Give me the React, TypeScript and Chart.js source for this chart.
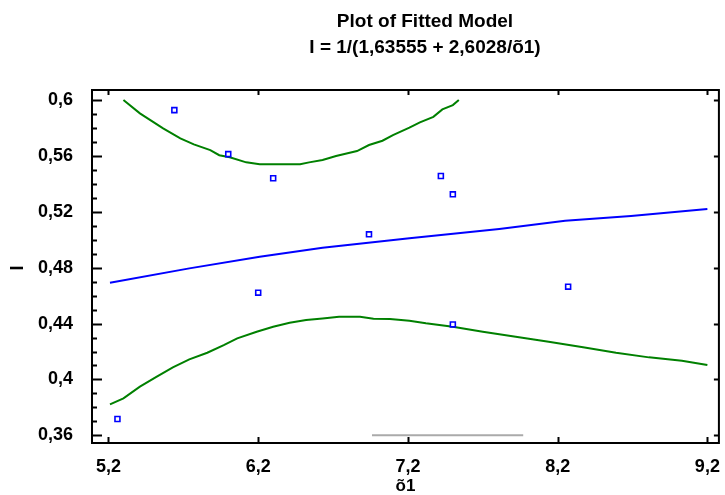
import React, { useEffect, useRef } from 'react';
import { Chart, registerables } from 'chart.js';

Chart.register(...registerables);

// ---------- data ----------
const titleLines = ['Plot of Fitted Model', 'I = 1/(1,63555 + 2,6028/õ1)'];
const xAxisTitle = 'õ1';
const yAxisTitle = 'I';

const xTicks = [5.2, 6.2, 7.2, 8.2, 9.2];
const yTicks = [0.36, 0.4, 0.44, 0.48, 0.52, 0.56, 0.6];
const yMinorStep = 0.01;

const obsX = [5.26, 5.64, 6.0, 6.2, 6.3, 6.94, 7.42, 7.5, 7.5, 8.27];
const obsY = [0.3717, 0.5928, 0.5613, 0.4621, 0.544, 0.5039, 0.5456, 0.5325, 0.4394, 0.4664];

const fitX = [5.21, 5.74, 6.21, 6.63, 7.21, 7.81, 8.25, 8.69, 9.2];
const fitY = [0.4692, 0.4795, 0.4878, 0.4943, 0.501, 0.5077, 0.5136, 0.517, 0.522];

const upperX = [5.3, 5.41, 5.565, 5.68, 5.77, 5.88, 5.94, 6.01, 6.12, 6.21, 6.34, 6.48, 6.54, 6.63, 6.72, 6.86, 6.94, 7.03, 7.1, 7.21, 7.28, 7.37, 7.43, 7.5, 7.54];
const upperY = [0.6, 0.5905, 0.5797, 0.5726, 0.5683, 0.5642, 0.5605, 0.559, 0.5554, 0.554, 0.554, 0.554, 0.5554, 0.5571, 0.5599, 0.5635, 0.5678, 0.5709, 0.5749, 0.5802, 0.584, 0.588, 0.5933, 0.5964, 0.6];

const lowerX = [5.21, 5.3, 5.41, 5.52, 5.63, 5.74, 5.86, 5.97, 6.06, 6.19, 6.3, 6.41, 6.52, 6.63, 6.74, 6.88, 6.97, 7.08, 7.21, 7.32, 7.5, 7.7, 7.92, 8.14, 8.37, 8.59, 8.81, 9.03, 9.2];
const lowerY = [0.3822, 0.3865, 0.3948, 0.4019, 0.4087, 0.4144, 0.4191, 0.4246, 0.4294, 0.4341, 0.4377, 0.4406, 0.4425, 0.4437, 0.4449, 0.4449, 0.4435, 0.4432, 0.442, 0.4402, 0.4377, 0.4341, 0.4306, 0.427, 0.423, 0.4191, 0.4158, 0.4134, 0.4103];

const grayX = [6.96, 7.97];
const grayY = [0.36, 0.36];

const xMin = 5.09;
const xMax = 9.277;
const yMin = 0.3545;
const yMax = 0.6072;

// ---------- helpers ----------
const toPts = (xs: number[], ys: number[]) => xs.map((x, i) => ({ x, y: ys[i] }));
const fmt = (v: number) => String(Number(v.toFixed(2))).replace('.', ',');
const FONT = "'Liberation Sans', Arial, Helvetica, sans-serif";

const framePlugin = {
  id: 'frameAndText',
  afterDraw(chart: any) {
    const { ctx, chartArea: a, scales } = chart;
    const xs = scales.x;
    const ys = scales.y;
    ctx.save();
    ctx.strokeStyle = '#000';
    ctx.lineWidth = 2;
    ctx.strokeRect(a.left, a.top, a.right - a.left, a.bottom - a.top);
    ctx.beginPath();
    xTicks.forEach((v) => {
      const px = Math.round(xs.getPixelForValue(v)) + 0.5;
      ctx.moveTo(px, a.bottom);
      ctx.lineTo(px, a.bottom - 6);
      ctx.moveTo(px, a.top);
      ctx.lineTo(px, a.top + 5);
    });
    yTicks.forEach((v) => {
      const py = Math.round(ys.getPixelForValue(v)) + 0.5;
      ctx.moveTo(a.left, py);
      ctx.lineTo(a.left + 10, py);
      ctx.moveTo(a.right, py);
      ctx.lineTo(a.right - 5, py);
    });
    for (let i = 0; ; i++) {
      const v = yTicks[0] + i * yMinorStep;
      if (v > yMax) break;
      if (yTicks.some((t) => Math.abs(t - v) < 1e-6)) continue;
      const py = Math.round(ys.getPixelForValue(v)) + 0.5;
      if (py < a.top || py > a.bottom) continue;
      ctx.moveTo(a.left, py);
      ctx.lineTo(a.left + 5, py);
    }
    ctx.stroke();

    ctx.fillStyle = '#000';
    ctx.textAlign = 'center';
    ctx.textBaseline = 'middle';
    ctx.font = `bold 19px ${FONT}`;
    const tx = 425;
    ctx.fillText(titleLines[0], tx, 22);
    ctx.fillText(titleLines[1], tx, 48);

    const cx = (a.left + a.right) / 2;
    ctx.font = `bold 17px ${FONT}`;
    ctx.fillText(xAxisTitle, cx, 486);

    ctx.font = `bold 18px ${FONT}`;
    ctx.translate(18, 268);
    ctx.rotate(-Math.PI / 2);
    ctx.fillText(yAxisTitle, 0, 0);
    ctx.restore();
  },
};

export default function App() {
  const ref = useRef<HTMLCanvasElement | null>(null);

  useEffect(() => {
    if (!ref.current) return;
    const tickFont = { family: FONT, size: 18, weight: 'bold' as const };
    const chart = new Chart(ref.current, {
      type: 'scatter',
      data: {
        datasets: [
          {
            label: 'Observed',
            data: toPts(obsX, obsY),
            showLine: false,
            pointStyle: 'rect',
            pointRadius: 3.5,
            pointBorderWidth: 1.6,
            borderColor: '#0000ff',
            backgroundColor: '#ffffff',
          },
          {
            label: 'Fitted',
            data: toPts(fitX, fitY),
            showLine: true,
            pointRadius: 0,
            borderColor: '#0000ff',
            borderWidth: 2,
            tension: 0,
          },
          {
            label: 'Upper',
            data: toPts(upperX, upperY),
            showLine: true,
            pointRadius: 0,
            borderColor: '#008000',
            borderWidth: 2,
            tension: 0,
          },
          {
            label: 'Lower',
            data: toPts(lowerX, lowerY),
            showLine: true,
            pointRadius: 0,
            borderColor: '#008000',
            borderWidth: 2,
            tension: 0,
          },
          {
            label: 'Range',
            data: toPts(grayX, grayY),
            showLine: true,
            pointRadius: 0,
            borderColor: '#aaaaaa',
            borderWidth: 2,
          },
        ],
      },
      options: {
        responsive: false,
        animation: false,
        events: [],
        layout: { padding: { top: 90, left: 0, right: 6, bottom: 0 } },
        plugins: {
          legend: { display: false },
          title: { display: false },
          tooltip: { enabled: false },
        },
        scales: {
          x: {
            type: 'linear',
            min: xMin,
            max: xMax,
            grid: { display: false },
            border: { display: false },
            afterBuildTicks: (s: any) => {
              s.ticks = xTicks.map((v) => ({ value: v }));
            },
            afterFit: (s: any) => {
              s.height = 52;
            },
            ticks: {
              color: '#000',
              font: tickFont,
              padding: 5,
              maxRotation: 0,
              autoSkip: false,
              callback: (v: any) => fmt(Number(v)),
            },
          },
          y: {
            type: 'linear',
            min: yMin,
            max: yMax,
            grid: { display: false },
            border: { display: false },
            afterBuildTicks: (s: any) => {
              s.ticks = yTicks.map((v) => ({ value: v }));
            },
            afterFit: (s: any) => {
              s.width = 92;
            },
            ticks: {
              color: '#000',
              font: tickFont,
              padding: 11,
              autoSkip: false,
              callback: (v: any) => fmt(Number(v)),
            },
          },
        },
      },
      plugins: [framePlugin],
    });
    return () => chart.destroy();
  }, []);

  return (
    <div style={{ position: 'fixed', left: 0, top: 0, width: 725, height: 495, background: '#fff' }}>
      <canvas ref={ref} width={725} height={495} style={{ display: 'block', width: 725, height: 495 }} />
    </div>
  );
}
